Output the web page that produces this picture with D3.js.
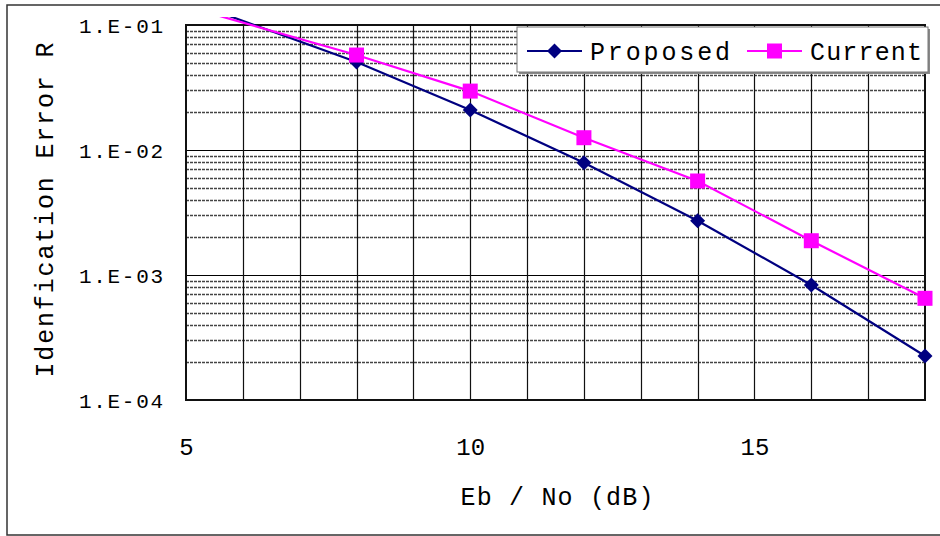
<!DOCTYPE html>
<html>
<head>
<meta charset="utf-8">
<script src="https://cdn.jsdelivr.net/npm/d3@7"></script>
<style>
  body { margin: 0; background: #fff; }
  text { font-family: "Liberation Mono", "DejaVu Sans Mono", monospace; fill: #000; }
</style>
</head>
<body>
<svg id="chart" width="940" height="536"></svg>
<script>
// data
const ebNo = [4, 8, 10, 12, 14, 16, 18];
const proposed = [0.23, 0.0506, 0.0209, 0.00791, 0.00272, 0.000832, 0.000225];
const current = [0.19, 0.0575, 0.0296, 0.01254, 0.00565, 0.00188, 0.000651];
const seriesNames = ['Proposed', 'Current'];
const xTicks = [5, 10, 15];
const yTicks = [1e-1, 1e-2, 1e-3, 1e-4];
const yTickLabels = ['1.E-01', '1.E-02', '1.E-03', '1.E-04'];

const svg = d3.select('#chart');
const margin = { top: 25, right: 15, bottom: 136, left: 186 };
const width = 940;
const height = 536;

const x = d3.scaleLinear()
  .domain([5, 18])
  .range([margin.left, width - margin.right]);

const y = d3.scaleLog()
  .domain([1e-4, 1e-1])
  .range([height - margin.bottom, margin.top]);

// outer chart frame
svg.append('rect')
  .attr('x', 7).attr('y', 5)
  .attr('width', 960).attr('height', 530)
  .attr('fill', 'none')
  .attr('stroke', '#333')
  .attr('stroke-width', 1.5);

// horizontal minor grid (2..9 in every decade)
const minor = [];
for (let e = -4; e < -1; e++) {
  for (let m = 2; m <= 9; m++) minor.push(m * Math.pow(10, e));
}
svg.append('g')
  .selectAll('line')
  .data(minor)
  .join('line')
  .attr('x1', x(5)).attr('x2', x(18))
  .attr('y1', (d) => Math.round(y(d)) + 0.5)
  .attr('y2', (d) => Math.round(y(d)) + 0.5)
  .attr('stroke', '#444')
  .attr('stroke-width', 1.4)
  .attr('stroke-dasharray', '3,1');

// decade lines
svg.append('g')
  .selectAll('line')
  .data(yTicks)
  .join('line')
  .attr('x1', x(5)).attr('x2', x(18))
  .attr('y1', (d) => Math.round(y(d)) + 0.5)
  .attr('y2', (d) => Math.round(y(d)) + 0.5)
  .attr('stroke', '#000')
  .attr('stroke-width', 1.2);

// vertical grid
svg.append('g')
  .selectAll('line')
  .data(d3.range(6, 18))
  .join('line')
  .attr('x1', (d) => Math.round(x(d)) + 0.5)
  .attr('x2', (d) => Math.round(x(d)) + 0.5)
  .attr('y1', y(1e-1)).attr('y2', y(1e-4))
  .attr('stroke', '#111')
  .attr('stroke-width', 1.2);

// plot border
svg.append('rect')
  .attr('x', x(5)).attr('y', y(1e-1))
  .attr('width', x(18) - x(5))
  .attr('height', y(1e-4) - y(1e-1))
  .attr('fill', 'none')
  .attr('stroke', '#111')
  .attr('stroke-width', 2);

// y axis labels
const yAxis = d3.axisLeft(y)
  .tickValues(yTicks)
  .tickFormat((d, i) => yTickLabels[i])
  .tickSize(0)
  .tickPadding(23);
svg.append('g')
  .attr('transform', `translate(${margin.left},0)`)
  .call(yAxis)
  .call((g) => g.select('.domain').remove())
  .call((g) => g.selectAll('text')
    .attr('font-size', 21)
    .attr('dy', 7)
    .attr('textLength', 84)
    .attr('lengthAdjust', 'spacing')
    .attr('font-family', null)
    .attr('fill', '#000'));

// x axis labels
const xAxis = d3.axisBottom(x)
  .tickValues(xTicks)
  .tickFormat(d3.format('d'))
  .tickSize(0)
  .tickPadding(0);
svg.append('g')
  .attr('transform', `translate(0,${height - margin.bottom})`)
  .call(xAxis)
  .call((g) => g.select('.domain').remove())
  .call((g) => g.selectAll('text')
    .attr('font-size', 24)
    .attr('y', 55)
    .attr('dy', 0)
    .attr('font-family', null)
    .attr('fill', '#000'));

// axis titles
svg.append('text')
  .attr('x', 557).attr('y', 505)
  .attr('text-anchor', 'middle')
  .attr('font-size', 25)
  .attr('textLength', 193)
  .attr('lengthAdjust', 'spacing')
  .text('Eb / No (dB)');

svg.append('text')
  .attr('transform', 'translate(53,210) rotate(-90)')
  .attr('text-anchor', 'middle')
  .attr('font-size', 25)
  .attr('textLength', 335)
  .attr('lengthAdjust', 'spacing')
  .text('Idenfication Error R');

// lines
svg.append('clipPath')
  .attr('id', 'clip')
  .append('rect')
  .attr('x', x(5)).attr('y', 17)
  .attr('width', width - x(5))
  .attr('height', y(1e-4) - 17);

const line = d3.line()
  .x((d) => x(d[0]))
  .y((d) => y(d[1]));

const propData = ebNo.map((d, i) => [d, proposed[i]]);
const currData = ebNo.map((d, i) => [d, current[i]]);
const inside = (d) => d[0] >= 5 && d[1] <= 0.1;

const plot = svg.append('g').attr('clip-path', 'url(#clip)');
plot.append('path')
  .datum(propData)
  .attr('d', line)
  .attr('fill', 'none')
  .attr('stroke', '#000080')
  .attr('stroke-width', 2.2);
plot.append('path')
  .datum(currData)
  .attr('d', line)
  .attr('fill', 'none')
  .attr('stroke', '#ff00ff')
  .attr('stroke-width', 2.2);

const diamond = d3.symbol().type(d3.symbolSquare).size(112);
svg.append('g')
  .selectAll('path')
  .data(propData.filter(inside))
  .join('path')
  .attr('d', diamond)
  .attr('transform', (d) => `translate(${x(d[0])},${y(d[1])}) rotate(45)`)
  .attr('fill', '#000080');

svg.append('g')
  .selectAll('rect')
  .data(currData.filter(inside))
  .join('rect')
  .attr('x', (d) => x(d[0]) - 7.5)
  .attr('y', (d) => y(d[1]) - 7.5)
  .attr('width', 15).attr('height', 15)
  .attr('fill', '#ff00ff');

// legend
const legend = svg.append('g');
legend.append('rect')
  .attr('x', 519).attr('y', 29)
  .attr('width', 411).attr('height', 45)
  .attr('fill', '#888');
legend.append('rect')
  .attr('x', 517).attr('y', 27)
  .attr('width', 411).attr('height', 45)
  .attr('fill', '#fff')
  .attr('stroke', '#777')
  .attr('stroke-width', 1);

const legendItems = [
  { name: seriesNames[0], color: '#000080', x0: 527, tx: 590, tl: 140, marker: 'diamond' },
  { name: seriesNames[1], color: '#ff00ff', x0: 747, tx: 810, tl: 112, marker: 'square' },
];
legendItems.forEach((it) => {
  legend.append('line')
    .attr('x1', it.x0).attr('x2', it.x0 + 55)
    .attr('y1', 51).attr('y2', 51)
    .attr('stroke', it.color)
    .attr('stroke-width', 2.2);
  if (it.marker === 'diamond') {
    legend.append('path')
      .attr('d', diamond)
      .attr('transform', `translate(${it.x0 + 27.5},51) rotate(45)`)
      .attr('fill', it.color);
  } else {
    legend.append('rect')
      .attr('x', it.x0 + 20).attr('y', 43.5)
      .attr('width', 15).attr('height', 15)
      .attr('fill', it.color);
  }
  legend.append('text')
    .attr('x', it.tx).attr('y', 60)
    .attr('font-size', 25)
    .attr('textLength', it.tl)
    .attr('lengthAdjust', 'spacing')
    .text(it.name);
});
</script>
</body>
</html>
